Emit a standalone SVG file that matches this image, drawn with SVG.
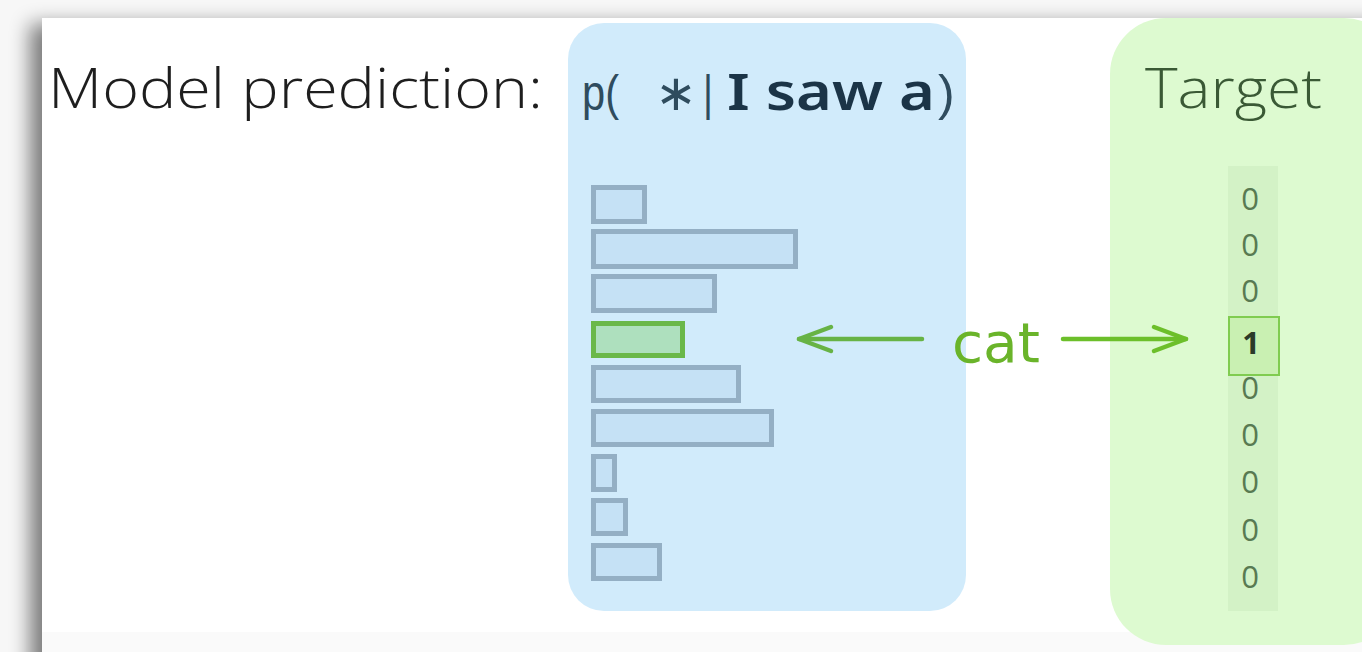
<svg xmlns="http://www.w3.org/2000/svg" width="1362" height="652" viewBox="0 0 1362 652">
  <defs>
    <filter id="soft" x="-10%" y="-10%" width="120%" height="120%">
      <feGaussianBlur stdDeviation="10"/>
    </filter>
    <marker id="chev-l" viewBox="-40 -16 44 32" refX="0" refY="0" markerWidth="44" markerHeight="32" markerUnits="userSpaceOnUse" orient="auto" overflow="visible">
      <path d="M-32,-12 L0,0 L-32,12" fill="none" stroke="#67b345" stroke-width="4.5" stroke-linecap="round" stroke-linejoin="round"/>
    </marker>
    <marker id="chev-r" viewBox="-40 -16 44 32" refX="0" refY="0" markerWidth="44" markerHeight="32" markerUnits="userSpaceOnUse" orient="auto" overflow="visible">
      <path d="M-32,-12 L0,0 L-32,12" fill="none" stroke="#6cbf2a" stroke-width="4.5" stroke-linecap="round" stroke-linejoin="round"/>
    </marker>
  </defs>
  <style>
    .title { font-family: "Open Sans", "Liberation Sans", sans-serif; font-weight: 300; font-size: 55px; fill: #1e1e1e; }
    .formula { font-family: "Liberation Sans", "DejaVu Sans", sans-serif; font-size: 50px; fill: #2f4c5e; }
    .formula-b { font-family: "Noto Sans", "DejaVu Sans", sans-serif; font-size: 50px; font-weight: 600; fill: #1b3447; }
    .bar { fill: #c5e1f5; stroke: #94afc4; stroke-width: 5; }
    .bar-hit { fill: #aee0be; stroke: #6ab84a; stroke-width: 5; }
    .digit { font-family: "Open Sans", "Liberation Sans", sans-serif; font-size: 31px; fill: #587a52; text-anchor: middle; }
    .digit-hit { font-family: "Open Sans", "Liberation Sans", sans-serif; font-size: 31px; font-weight: bold; fill: #2b3a28; text-anchor: middle; }
    .word { font-family: "DejaVu Sans", "Liberation Sans", sans-serif; font-size: 56px; fill: #6ab42a; }
  </style>

  <!-- page backdrop and slide shadow -->
  <rect x="0" y="0" width="1362" height="652" fill="#f7f7f7"/>
  <rect x="30" y="24" width="1400" height="700" fill="#000000" opacity="0.5" filter="url(#soft)"/>
  <rect x="42" y="18" width="1330" height="614" fill="#ffffff"/>
  <rect x="42" y="632" width="1330" height="30" fill="#fafafa"/>

  <!-- heading -->
  <g id="heading">
    <text class="title" x="48" y="108" textLength="495" lengthAdjust="spacingAndGlyphs">Model prediction:</text>
  </g>

  <!-- prediction distribution -->
  <g id="prediction">
    <rect x="568" y="23" width="398" height="588" rx="36" fill="#d1ebfb"/>
    <text class="formula" x="582" y="110" textLength="37" lengthAdjust="spacingAndGlyphs">p(</text>
    <text class="formula" x="655" y="110" font-family="DejaVu Sans, sans-serif" font-size="46">∗</text>
    <text class="formula" x="703" y="110" textLength="10" lengthAdjust="spacingAndGlyphs">|</text>
    <text class="formula-b" x="727" y="110" textLength="208" lengthAdjust="spacingAndGlyphs">I saw a</text>
    <text class="formula" x="938" y="110">)</text>
    <rect class="bar" x="593.5" y="187.5" width="51" height="34"/>
    <rect class="bar" x="593.5" y="231.5" width="202" height="35"/>
    <rect class="bar" x="593.5" y="276.5" width="121" height="34"/>
    <rect class="bar-hit" x="593.5" y="323.5" width="89" height="32"/>
    <rect class="bar" x="593.5" y="367.5" width="145" height="33"/>
    <rect class="bar" x="593.5" y="411.5" width="178" height="33"/>
    <rect class="bar" x="593.5" y="456.5" width="21" height="33"/>
    <rect class="bar" x="593.5" y="500.5" width="32" height="33"/>
    <rect class="bar" x="593.5" y="545.5" width="66" height="33"/>
  </g>

  <!-- one-hot target -->
  <g id="target">
    <rect x="1110" y="18" width="290" height="627" rx="56" fill="#ddfad0"/>
    <text x="1145" y="108" font-family="Open Sans, Liberation Sans, sans-serif" font-weight="300" font-size="55" fill="#3a5935" textLength="177" lengthAdjust="spacingAndGlyphs">Target</text>
    <rect x="1228" y="166" width="50" height="445" fill="#d3f2c6"/>
    <rect x="1229" y="317" width="50" height="58" fill="#c9f0b2" stroke="#80cc50" stroke-width="2"/>
    <text class="digit" x="1250" y="210">0</text>
    <text class="digit" x="1250" y="256">0</text>
    <text class="digit" x="1250" y="302">0</text>
    <text class="digit-hit" x="1251" y="354">1</text>
    <text class="digit" x="1250" y="399">0</text>
    <text class="digit" x="1250" y="446">0</text>
    <text class="digit" x="1250" y="493">0</text>
    <text class="digit" x="1250" y="541">0</text>
    <text class="digit" x="1250" y="588">0</text>
  </g>

  <!-- label word -->
  <g id="label">
    <text class="word" x="952" y="362" textLength="88" lengthAdjust="spacingAndGlyphs">cat</text>
  </g>

  <!-- connectors -->
  <g id="connectors" fill="none" stroke-width="4.5" stroke-linecap="round">
    <line x1="922" y1="339" x2="799" y2="339" stroke="#67b345" marker-end="url(#chev-l)"/>
    <line x1="1063" y1="339" x2="1186" y2="339" stroke="#6cbf2a" marker-end="url(#chev-r)"/>
  </g>
</svg>
